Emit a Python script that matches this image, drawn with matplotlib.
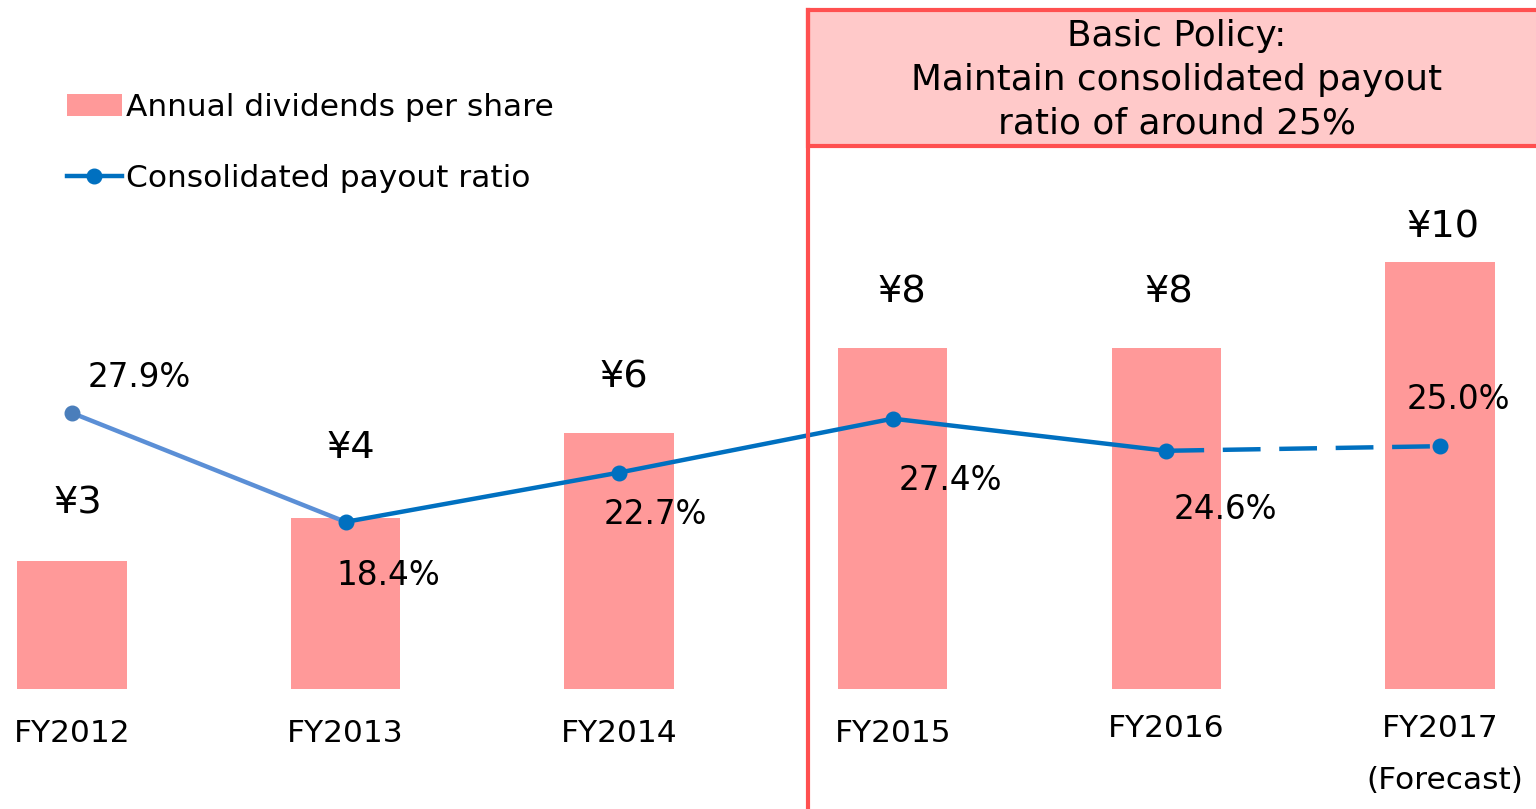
import matplotlib
matplotlib.use("Agg")
import matplotlib.pyplot as plt
from matplotlib.patches import Rectangle
from matplotlib.lines import Line2D
from matplotlib.patches import Patch

# ---- data ----
categories = ["FY2012", "FY2013", "FY2014", "FY2015", "FY2016", "FY2017"]
dividends = [3, 4, 6, 8, 8, 10]
dividend_labels = ["¥3", "¥4", "¥6", "¥8", "¥8", "¥10"]
payout = [27.9, 18.4, 22.7, 27.4, 24.6, 25.0]
payout_labels = ["27.9%", "18.4%", "22.7%", "27.4%", "24.6%", "25.0%"]
forecast_note = "(Forecast)"
policy_text = "Basic Policy:\nMaintain consolidated payout\nratio of around 25%"
legend_labels = ["Annual dividends per share", "Consolidated payout ratio"]

# ---- style ----
W, H = 1536, 809
BAR = "#ff9999"
LINE = "#0070c0"
LINE_LIGHT = "#5b8fd6"
RED = "#ff5050"
BOX = "#ffc9c9"
FONT = "DejaVu Sans"
LW = 3.2
MS = 10.5

fig = plt.figure(figsize=(W / 100, H / 100), dpi=100)
ax = fig.add_axes([0, 0, 1, 1])
x = list(range(len(categories)))

ax.bar(x, dividends, width=0.40, color=BAR, zorder=1)
ax.set_xlim(-0.263, 5.351)
ax.set_ylim(-2.81, 16.14)
ax.axis("off")

ax2 = ax.twinx()
ax2.set_ylim(-6.63, 63.9)
ax2.axis("off")
ax2.plot(x[0:2], payout[0:2], color=LINE_LIGHT, lw=LW, zorder=3, solid_capstyle="round")
ax2.plot(x[0:1], payout[0:1], "o", color="#4a7ebb", ms=MS, zorder=4)
ax2.plot(x[1:5], payout[1:5], color=LINE, lw=LW, marker="o", ms=MS, zorder=4)
ax2.plot(x[4:6], payout[4:6], color=LINE, lw=LW, ls=(0, (8.5, 4.2)), zorder=3)
ax2.plot(x[5:6], payout[5:6], "o", color=LINE, ms=MS, zorder=4)

# dividend labels
div_dy = [57, 70, 55, 55, 55, 35]
div_dx = [6, 5, 5, 9, 2, 3]
for i, (v, lab) in enumerate(zip(dividends, dividend_labels)):
    ax.annotate(lab, (i, v), xytext=(div_dx[i], div_dy[i]), textcoords="offset pixels",
                ha="center", va="center", fontsize=27.5, family=FONT, color="black")

# payout labels
pct_dx = [67, 43, 36, 58, 59, 18]
pct_dy = [35, -54, -42, -62, -59, 47]
for i, (v, lab) in enumerate(zip(payout, payout_labels)):
    ax2.annotate(lab, (i, v), xytext=(pct_dx[i], pct_dy[i]), textcoords="offset pixels",
                 ha="center", va="center", fontsize=23.5, family=FONT, color="black", zorder=5)

# category labels
cat_dy = [-44, -44, -44, -44, -39, -39]
for i, lab in enumerate(categories):
    ax.annotate(lab, (i, 0), xytext=(0, cat_dy[i]), textcoords="offset pixels",
                ha="center", va="center", fontsize=22.5, family=FONT, color="black")
ax.annotate(forecast_note, (5, 0), xytext=(5, -91), textcoords="offset pixels",
            ha="center", va="center", fontsize=22.5, family=FONT, color="black")

# policy box and vertical divider
fig.patches.append(Rectangle((808 / W, (H - 146) / H), (W - 808 + 20) / W, (146 - 10) / H,
                             transform=fig.transFigure, facecolor=BOX, edgecolor=RED,
                             linewidth=3, zorder=0))
fig.lines.append(Line2D([808 / W, 808 / W], [0, (H - 10) / H], transform=fig.transFigure,
                        color=RED, linewidth=3))
fig.text(1177 / W, (H - 80) / H, policy_text, ha="center", va="center", fontsize=25.8,
         family=FONT, linespacing=1.37, color="black")

# legend
handles = [Patch(facecolor=BAR, edgecolor="none"),
           Line2D([], [], color=LINE, lw=LW, marker="o", ms=MS)]
leg = fig.legend(handles, legend_labels, loc="upper left", bbox_to_anchor=(67 / W, (H - 93) / H),
                 frameon=False, prop={"family": FONT, "size": 22.5}, handlelength=1.75,
                 handletextpad=0.15, labelspacing=1.33, borderaxespad=0, borderpad=0)

fig.savefig("out.png", dpi=100)
